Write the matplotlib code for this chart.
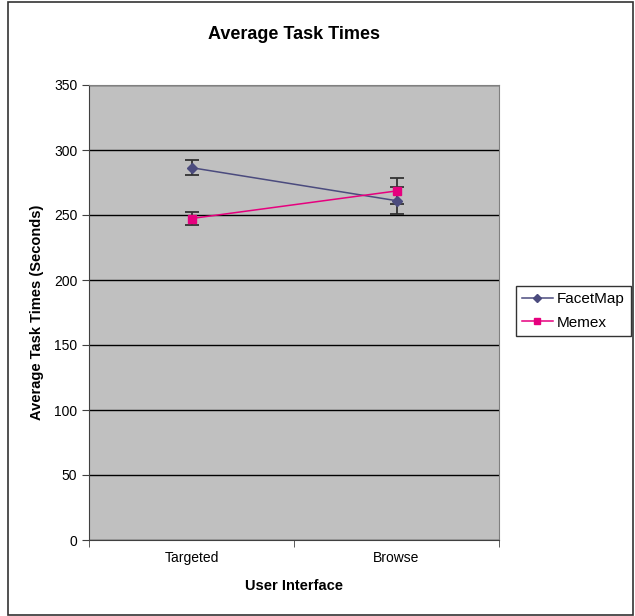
import matplotlib
matplotlib.use("Agg")
import matplotlib.pyplot as plt
from matplotlib.patches import Rectangle
from matplotlib.lines import Line2D

plt.rcParams['font.family'] = ['Liberation Sans', 'DejaVu Sans']

categories = ["Targeted", "Browse"]
facetmap = [286.4, 261.0]
facetmap_err = [5.7, 10.5]
memex = [247.3, 268.5]
memex_err = [5.0, 9.8]
yticks = [0, 50, 100, 150, 200, 250, 300, 350]

fm_color = '#4B4B7E'
mx_color = '#E6007E'

fig = plt.figure(figsize=(6.35, 6.16), dpi=100)
ax = fig.add_axes([89/635, 1-540/616, 410/635, 455/616])
ax.set_facecolor('#C0C0C0')

x = list(range(len(categories)))
ax.errorbar(x, facetmap, yerr=facetmap_err, color=fm_color, marker='D', markersize=5,
            lw=1.1, ecolor='#333333', elinewidth=1.3, capsize=5, capthick=1.3, zorder=3)
ax.errorbar(x, memex, yerr=memex_err, color=mx_color, marker='s', markersize=5.5,
            lw=1.1, ecolor='#333333', elinewidth=1.3, capsize=5, capthick=1.3, zorder=3)

ax.set_xlim(-0.5, 1.5)
ax.set_ylim(0, 350)
ax.set_yticks(yticks)
ax.yaxis.grid(True, color='black', lw=1)
ax.set_axisbelow(True)
ax.set_xticks(x)
ax.set_xticklabels(categories, fontsize=10)
ax.tick_params(axis='x', length=0, pad=8)
ax.set_xticks([-0.5, 0.5, 1.5], minor=True)
ax.tick_params(axis='x', which='minor', length=5, color='#404040')
ax.tick_params(axis='y', labelsize=10, length=5, color='#404040')

for s in ['top', 'right']:
    ax.spines[s].set_color('#808080')
for s in ['left', 'bottom']:
    ax.spines[s].set_color('#404040')

ax.set_title("Average Task Times", fontsize=13, fontweight='bold', pad=33)
ax.set_ylabel("Average Task Times (Seconds)", fontsize=10.5, fontweight='bold', labelpad=7)
ax.set_xlabel("User Interface", fontsize=10.5, fontweight='bold', labelpad=10)

handles = [Line2D([], [], color=fm_color, marker='D', markersize=4.5, lw=1.1),
           Line2D([], [], color=mx_color, marker='s', markersize=5, lw=1.1)]
leg = ax.legend(handles, ['FacetMap', 'Memex'], loc='center left',
                bbox_to_anchor=(516/635, 1-311/616),
                bbox_transform=fig.transFigure, fontsize=11, frameon=True,
                fancybox=False, edgecolor='black', borderpad=0.4, handlelength=2.0,
                handletextpad=0.3, labelspacing=0.6, borderaxespad=0)
leg.get_frame().set_linewidth(1)

fig.patches.append(Rectangle((8/635, 1-615/616), 625/635, 613/616, transform=fig.transFigure,
                             fill=False, edgecolor='#333333', lw=1.2))

fig.savefig("out.png", dpi=100)
